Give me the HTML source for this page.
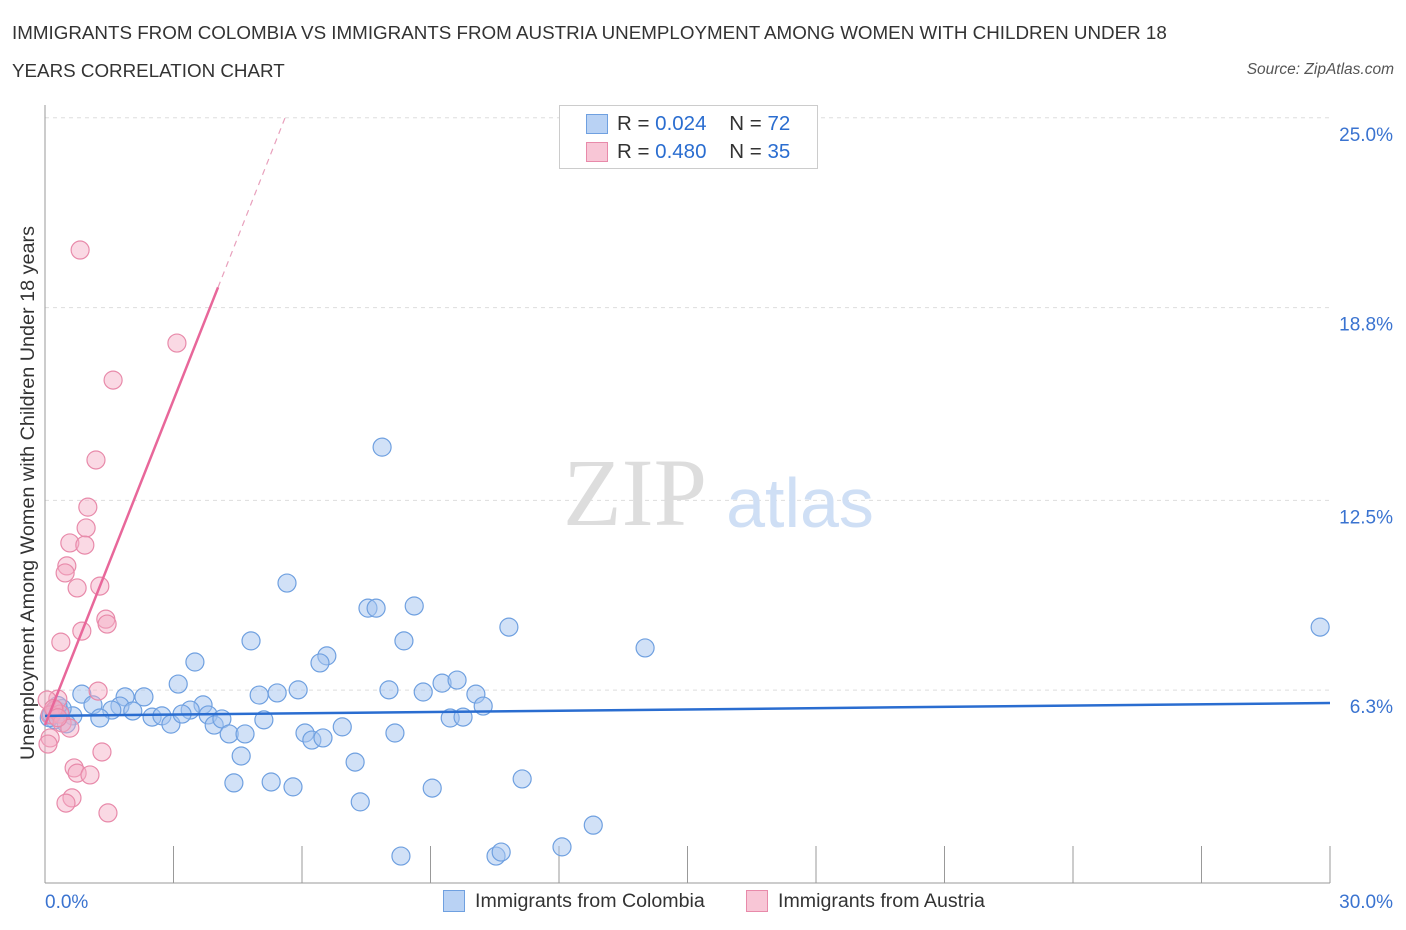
<!DOCTYPE html>
<html><head><meta charset="utf-8"><style>
body{margin:0;background:#fff;font-family:"Liberation Sans",sans-serif;}
#wrap{position:relative;width:1406px;height:930px;}
.t{position:absolute;font-size:18.8px;color:#333;white-space:nowrap;}
</style></head><body>
<div id="wrap">
<div class="t" style="left:12px;top:22px;">IMMIGRANTS FROM COLOMBIA VS IMMIGRANTS FROM AUSTRIA UNEMPLOYMENT AMONG WOMEN WITH CHILDREN UNDER 18</div>
<div class="t" style="left:12px;top:60px;">YEARS CORRELATION CHART</div>
<div class="t" style="right:12px;top:61px;font-size:15.5px;font-style:italic;color:#555;">Source: ZipAtlas.com</div>
<svg id="svg" width="1406" height="930" style="position:absolute;left:0;top:0"></svg>
</div>
<script>
const blueX=[7.87,5.65,7.54,7.73,8.62,10.83,29.77,14.01,4.81,8.38,6.58,6.42,3.50,3.11,9.27,9.62,8.03,8.83,10.06,10.23,5.91,5.42,5.00,0.86,1.87,2.31,3.69,3.39,1.75,1.56,2.05,1.12,1.28,0.65,0.35,0.23,2.50,2.73,2.94,3.20,3.81,3.95,4.13,4.30,4.67,5.11,6.07,6.23,6.49,6.94,8.17,9.46,9.76,4.58,7.24,4.41,5.28,5.79,9.04,11.14,7.36,12.80,8.31,10.53,10.65,12.07,0.2,0.4,0.1,0.3,0.5,0.15];
const blueY=[14.24,9.80,8.98,8.98,9.05,8.36,8.36,7.68,7.91,7.91,7.42,7.19,7.22,6.50,6.53,6.63,6.31,6.24,6.17,5.78,6.31,6.21,6.14,6.17,6.08,6.08,5.82,5.65,5.78,5.65,5.62,5.82,5.39,5.46,5.59,5.33,5.42,5.46,5.19,5.52,5.49,5.16,5.36,4.87,4.87,5.33,4.90,4.67,4.74,5.10,4.90,5.39,5.42,4.15,3.95,3.27,3.30,3.14,3.10,3.40,2.65,1.89,0.88,0.88,1.01,1.18,5.6,5.7,5.4,5.8,5.2,5.5];
const pinkX=[0.82,3.08,1.59,1.19,1.00,0.96,0.58,0.93,0.51,0.47,1.28,0.75,1.42,1.45,0.86,0.37,1.24,0.30,0.05,0.23,0.12,0.35,0.40,0.58,0.12,0.07,1.33,0.68,0.75,1.05,0.63,0.49,1.47,0.2,0.3];
const pinkY=[20.68,17.64,16.43,13.82,12.28,11.60,11.11,11.04,10.36,10.13,9.70,9.64,8.62,8.46,8.23,7.87,6.27,6.01,5.98,5.65,5.49,5.52,5.23,5.06,4.74,4.54,4.28,3.76,3.59,3.53,2.78,2.61,2.29,5.7,5.4];
const yTicks=[6.3,12.5,18.8,25.0];
const xTicks=[0,3,6,9,12,15,18,21,24,27,30];
const blueTrend=[5.46,5.88];
const pinkTrend=[5.16,3.54];
const sx=v=>45+v/30*1285, sy=v=>883-v/6.25*191.3;
const svg=document.getElementById('svg');
const NS='http://www.w3.org/2000/svg';
function mk(tag,a){const e=document.createElementNS(NS,tag);for(const k in a)e.setAttribute(k,a[k]);svg.appendChild(e);return e;}
yTicks.forEach(v=>{const l=mk('line',{x1:45,x2:1330,y1:sy(v),y2:sy(v),stroke:'#ddd','stroke-dasharray':'4,4'});

const t=mk('text',{x:1393,y:sy(v)+23,'text-anchor':'end','font-size':19,fill:'#3a73d0'});t.textContent=v.toFixed(1)+'%';
});
const ax=mk('line',{x1:45,x2:45,y1:105,y2:883,stroke:'#999'});
const bx=mk('line',{x1:45,x2:1330,y1:883,y2:883,stroke:'#999'});
xTicks.forEach(v=>{const l=mk('line',{x1:sx(v),x2:sx(v),y1:846,y2:883,stroke:'#999'});});
[[0,'0.0%',45,'start'],[30,'30.0%',1393,'end']].forEach(a=>{const t=mk('text',{x:a[2],y:908,'text-anchor':a[3],'font-size':19,fill:'#3a73d0'});t.textContent=a[1];});
const yt=mk('text',{x:0,y:0,transform:'translate(34,493) rotate(-90)','text-anchor':'middle','font-size':19.8,fill:'#333'});yt.textContent='Unemployment Among Women with Children Under 18 years';

const w1=mk('text',{x:635,y:525,'text-anchor':'middle','font-size':96,'font-family':'Liberation Serif',fill:'#ddd'});w1.textContent='ZIP';
const w2=mk('text',{x:800,y:527,'text-anchor':'middle','font-size':70,fill:'#cfdff5'});w2.textContent='atlas';
blueX.forEach((x,i)=>{const c=mk('circle',{cx:sx(x),cy:sy(blueY[i]),r:9,fill:'rgba(164,196,240,0.5)',stroke:'#6fa0e0','stroke-width':1.2});
});
pinkX.forEach((x,i)=>{const c=mk('circle',{cx:sx(x),cy:sy(pinkY[i]),r:9,fill:'rgba(244,170,195,0.45)',stroke:'#e88aaa','stroke-width':1.2});
});
const bl=mk('line',{x1:sx(0),x2:sx(30),y1:sy(blueTrend[0]),y2:sy(blueTrend[1]),stroke:'#2a6dd0','stroke-width':2.5});

const px1=4.04,px2=(25-pinkTrend[0])/pinkTrend[1];
const pl=mk('line',{x1:sx(0),x2:sx(px1),y1:sy(pinkTrend[0]),y2:sy(pinkTrend[0]+pinkTrend[1]*px1),stroke:'#e8679a','stroke-width':2.5});

const pd=mk('line',{x1:sx(px1),x2:sx(px2),y1:sy(pinkTrend[0]+pinkTrend[1]*px1),y2:sy(25),stroke:'#e8a0bc','stroke-width':1.2,'stroke-dasharray':'6,5'});

</script>
<div style="position:absolute;left:559px;top:105px;width:257px;height:62px;border:1px solid #ccc;background:#fff;font-size:20.5px;">
<div style="position:absolute;left:26px;top:8px;width:20px;height:18px;background:#b9d2f4;border:1px solid #6fa0e0;"></div>
<div style="position:absolute;left:57px;top:6px;color:#333;white-space:pre">R = <span style="color:#2a6dd0">0.024</span>    N = <span style="color:#2a6dd0">72</span></div>
<div style="position:absolute;left:26px;top:36px;width:20px;height:18px;background:#f8c6d6;border:1px solid #e88aaa;"></div>
<div style="position:absolute;left:57px;top:34px;color:#333;white-space:pre">R = <span style="color:#2a6dd0">0.480</span>    N = <span style="color:#2a6dd0">35</span></div>
</div>
<div style="position:absolute;left:443px;top:890px;width:20px;height:20px;background:#b9d2f4;border:1px solid #6fa0e0;"></div>
<div class="t" style="left:475px;top:890px;font-size:19.6px;">Immigrants from Colombia</div>
<div style="position:absolute;left:746px;top:890px;width:20px;height:20px;background:#f8c6d6;border:1px solid #e88aaa;"></div>
<div class="t" style="left:778px;top:890px;font-size:19.6px;">Immigrants from Austria</div>
</body></html>
